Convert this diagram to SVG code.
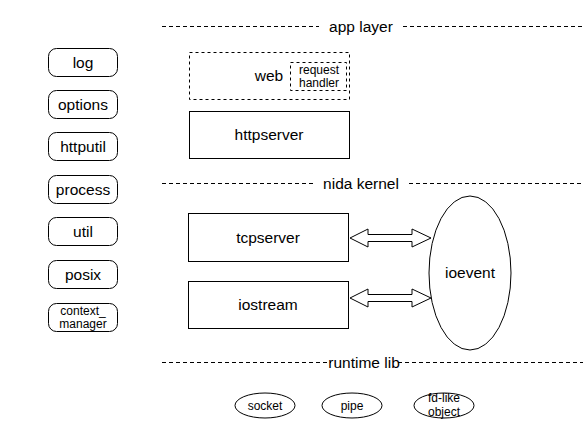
<svg xmlns="http://www.w3.org/2000/svg" width="583" height="421" viewBox="0 0 583 421">
<style>
.t{font-family:"Liberation Sans",Arial,sans-serif;fill:#000;text-anchor:middle}
.l{font-size:15.5px}
.s{font-size:12px}
.box{fill:#fff;stroke:#000;stroke-width:1}
.dash{fill:none;stroke:#000;stroke-width:1;stroke-dasharray:3 3}
.sep{stroke:#000;stroke-width:1;stroke-dasharray:4 3}
.arr{fill:#fff;stroke:#000;stroke-width:1;stroke-linejoin:miter}
</style>
<rect width="583" height="421" fill="#fff"/>
<g id="separators">
<line class="sep" x1="162" y1="26.5" x2="319" y2="26.5"/>
<line class="sep" x1="403" y1="26.5" x2="583" y2="26.5"/>
<text class="t l" x="361" y="32">app layer</text>
<line class="sep" x1="162" y1="183.5" x2="313" y2="183.5"/>
<line class="sep" x1="409" y1="183.5" x2="583" y2="183.5"/>
<text class="t l" x="361" y="189">nida kernel</text>
<line class="sep" x1="162" y1="362.5" x2="331" y2="362.5"/>
<line class="sep" x1="398" y1="362.5" x2="583" y2="362.5"/>
<text class="t l" x="364" y="368">runtime lib</text>
</g>
<g id="log"><rect class="box" x="48.5" y="48.5" width="69" height="28" rx="8"/><text class="t l" x="83" y="68">log</text></g>
<g id="options"><rect class="box" x="48.5" y="90.5" width="69" height="28" rx="8"/><text class="t l" x="83" y="110">options</text></g>
<g id="httputil"><rect class="box" x="48.5" y="132.5" width="69" height="28" rx="8"/><text class="t l" x="83" y="152">httputil</text></g>
<g id="process"><rect class="box" x="48.5" y="175.5" width="69" height="28" rx="8"/><text class="t l" x="83" y="195">process</text></g>
<g id="util"><rect class="box" x="48.5" y="217.5" width="69" height="28" rx="8"/><text class="t l" x="83" y="237">util</text></g>
<g id="posix"><rect class="box" x="48.5" y="260.5" width="69" height="28" rx="8"/><text class="t l" x="83" y="280">posix</text></g>
<g id="context_manager"><rect class="box" x="48.5" y="303.5" width="69" height="28" rx="8"/><text class="t s" x="83" y="315">context_</text><text class="t s" x="83" y="328">manager</text></g>
<g id="web"><rect class="dash" x="189.5" y="52.5" width="160" height="47"/><text class="t l" x="269" y="81">web</text></g>
<g id="request_handler"><rect class="dash" x="290.5" y="62.5" width="56" height="28"/><text class="t s" x="319" y="74">request</text><text class="t s" x="319" y="87">handler</text></g>
<g id="httpserver"><rect class="box" x="189.5" y="111.5" width="160" height="47"/><text class="t l" x="269" y="140">httpserver</text></g>
<g id="tcpserver"><rect class="box" x="188.5" y="213.5" width="160" height="48"/><text class="t l" x="268" y="243">tcpserver</text></g>
<g id="iostream"><rect class="box" x="188.5" y="281.5" width="160" height="47"/><text class="t l" x="268" y="310">iostream</text></g>
<g id="ioevent"><ellipse class="box" cx="470" cy="273" rx="41" ry="77"/><text class="t l" x="470" y="278">ioevent</text></g>
<g id="socket"><ellipse class="box" cx="265" cy="405.5" rx="30" ry="12.5"/><text class="t s" x="265" y="409.5">socket</text></g>
<g id="pipe"><ellipse class="box" cx="352" cy="405.5" rx="30" ry="12.5"/><text class="t s" x="352" y="409.5">pipe</text></g>
<g id="fd-like_object"><ellipse class="box" cx="444" cy="405.5" rx="30" ry="12.5"/><text class="t s" x="444" y="402">fd-like</text><text class="t s" x="444" y="416">object</text></g>
<g id="connectors">
<path class="arr" d="M350,238 L368,229 L368,234.5 L412,234.5 L412,229 L431,238 L412,247 L412,241.5 L368,241.5 L368,247 Z"/>
<path class="arr" d="M350,298 L368,289 L368,294.5 L412,294.5 L412,289 L431,298 L412,307 L412,301.5 L368,301.5 L368,307 Z"/>
</g>
</svg>
